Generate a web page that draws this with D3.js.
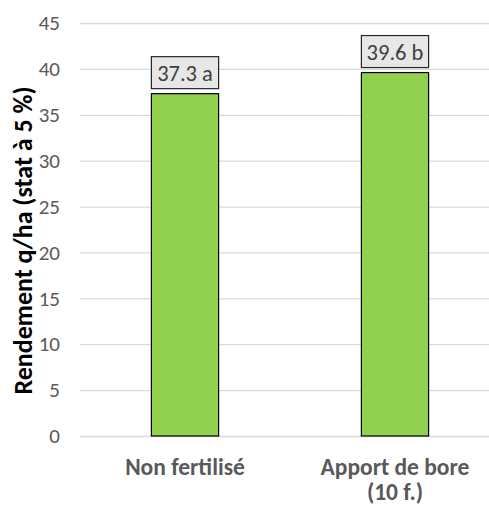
<!DOCTYPE html>
<html>
<head>
<meta charset="utf-8">
<script src="https://cdn.jsdelivr.net/npm/d3@7"></script>
<style>
  body { margin: 0; background: #fff; }
  #chart { width: 489px; height: 506px; overflow: hidden; }
  text { font-family: Carlito, Calibri, "Open Sans", sans-serif; }
</style>
</head>
<body>
<div id="chart"></div>
<script>
//Données
const categories = ['Non fertilisé', 'Apport de bore\n(10 f.)'];
const valeurs = [37.3, 39.6];
const lettres = ['a', 'b'];
const yTicks = [0, 5, 10, 15, 20, 25, 30, 35, 40, 45];

//Colores
const COLOR_BAR = '#92D050',
COLOR_GRID = '#D9D9D9',
COLOR_TEXT = '#595959',
COLOR_LABEL_BG = '#E7E7E7';

let margin = {top: 23, right: -11, bottom: 70, left: 80},
    width = 489 - margin.left - margin.right,
    height = 506 - margin.top - margin.bottom;

let svg = d3.select('#chart')
    .append('svg')
      .attr('width', 489)
      .attr('height', 506)
    .append('g')
      .attr('transform', 'translate(' + margin.left + ',' + margin.top + ')');

let data = categories.map(function(c, i) { return {cat: c, val: valeurs[i], lettre: lettres[i]}; });

//Eje Y
let y = d3.scaleLinear()
    .domain([0, 45])
    .range([height, 0]);

let yAxis = d3.axisLeft(y).tickValues(yTicks).tickSize(-width).tickPadding(20);

svg.append('g')
    .attr('class', 'yaxis')
    .call(yAxis)
    .call(function(g) {
        g.select('.domain').remove();
        g.selectAll('.tick line').attr('stroke', COLOR_GRID).attr('stroke-width', 1.3);
        g.selectAll('.tick text').attr('fill', COLOR_TEXT).style('font-size', '21px');
    });

//Eje X
let x = d3.scaleBand()
    .domain(categories)
    .range([0, width])
    .paddingInner(0.68)
    .paddingOuter(0.34);

let xg = svg.append('g')
    .attr('transform', 'translate(0,' + height + ')');

xg.selectAll('text')
    .data(categories)
    .enter()
    .append('text')
    .attr('x', function(d) { return x(d) + x.bandwidth() / 2; })
    .attr('y', 39)
    .attr('text-anchor', 'middle')
    .attr('fill', COLOR_TEXT)
    .style('font-size', '23.5px')
    .style('font-weight', 'bold')
    .each(function(d) {
        let lines = d.split('\n');
        let t = d3.select(this);
        lines.forEach(function(l, i) {
            t.append('tspan')
                .attr('x', x(d) + x.bandwidth() / 2)
                .attr('dy', i === 0 ? 0 : 25)
                .text(l);
        });
    });

//Barras
svg.append('g')
    .selectAll('rect')
    .data(data)
    .enter()
    .append('rect')
    .attr('x', function(d) { return x(d.cat); })
    .attr('y', function(d) { return y(d.val); })
    .attr('width', x.bandwidth())
    .attr('height', function(d) { return height - y(d.val); })
    .attr('fill', COLOR_BAR)
    .attr('stroke', '#000')
    .attr('stroke-width', 1.2);

//Etiquetas
let etiq = svg.append('g')
    .selectAll('g')
    .data(data)
    .enter()
    .append('g')
    .attr('transform', function(d) { return 'translate(' + (x(d.cat) + x.bandwidth() / 2) + ',' + (y(d.val) - 21) + ')'; });

etiq.append('rect')
    .attr('x', -x.bandwidth() / 2)
    .attr('y', -16)
    .attr('width', x.bandwidth())
    .attr('height', 32)
    .attr('fill', COLOR_LABEL_BG)
    .attr('stroke', '#262626')
    .attr('stroke-width', 1.2);

etiq.append('text')
    .attr('text-anchor', 'middle')
    .attr('dy', '0.36em')
    .attr('fill', '#404040')
    .style('font-size', '22.5px')
    .text(function(d) { return d3.format('.1f')(d.val) + ' ' + d.lettre; });

//Título eje Y
svg.append('text')
    .attr('transform', 'translate(' + (-48) + ',' + (height / 2 + 11) + ') rotate(-90)')
    .attr('text-anchor', 'middle')
    .attr('fill', '#000')
    .style('font-size', '26px')
    .style('font-weight', 'bold')
    .text('Rendement q/ha (stat à 5 %)');
</script>
</body>
</html>
